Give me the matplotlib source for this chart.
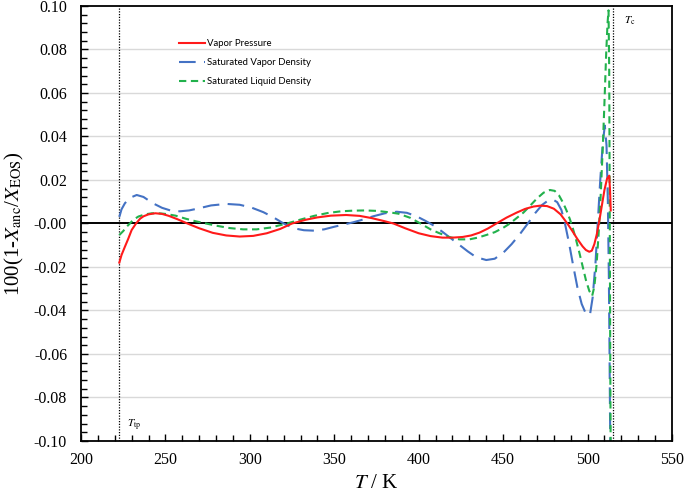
import matplotlib
matplotlib.use("Agg")
import matplotlib.pyplot as plt
from matplotlib.ticker import MultipleLocator, FormatStrFormatter

plt.rcParams['font.family'] = ['Liberation Serif', 'DejaVu Serif']
plt.rcParams['mathtext.fontset'] = 'stix'

# triple point and critical temperature
T_tp = 222.7
T_c = 515.0

# vapor pressure deviation
tVP = [222.7, 224, 226, 228, 230, 232.6, 235, 237, 240, 244, 248, 252, 257,
       263, 270, 278, 286, 294, 302, 310, 318, 325, 333, 340, 348, 357, 365,
       372, 379, 385, 392, 400, 407, 414, 420, 426, 431, 436, 441, 446, 452,
       458, 463, 468, 472, 476, 480, 484, 488, 491, 494, 497, 499, 501, 502.5,
       504, 505.5, 507, 508.5, 510, 511.5, 512.8, 513.3, 513.7]
yVP = [-0.018, -0.0145, -0.0107, -0.007, -0.003, 0.0, 0.0022, 0.0033, 0.0042,
       0.0047, 0.0044, 0.0035, 0.002, 0.0, -0.0022, -0.0043, -0.0055, -0.006,
       -0.0057, -0.0045, -0.0025, 0.0, 0.0017, 0.0028, 0.0036, 0.0039, 0.0035,
       0.0025, 0.0012, 0.0, -0.0022, -0.0045, -0.0058, -0.0065, -0.0065,
       -0.0062, -0.0055, -0.0042, -0.0023, 0.0, 0.0027, 0.005, 0.0067, 0.0078,
       0.0082, 0.008, 0.0068, 0.0042, 0.0, -0.0035, -0.0072, -0.0105, -0.0122,
       -0.013, -0.0125, -0.0095, -0.0048, 0.0015, 0.0085, 0.0155, 0.0205,
       0.022, 0.015, 0.006]

# saturated vapor density deviation
tSVD = [222.7, 224, 226, 229, 233, 237, 242.6, 248, 253.7, 258.6, 264, 270,
        277, 286, 294, 301, 308, 314, 320, 326, 332, 338, 344, 350, 356, 361,
        367, 373, 380, 387, 393, 399, 404, 409, 414, 419, 424, 429, 434, 440,
        445, 450, 455, 460, 464.6, 469, 473, 476.5, 479.5, 482, 484.5, 486.6,
        489, 491.5, 494, 496.5, 499, 501.4, 503, 504.7, 506, 507.5, 509,
        510.2, 511.2, 512, 512.6, 513.0, 513.3, 513.6]
ySVD = [0.003, 0.0065, 0.0093, 0.0118, 0.0131, 0.0122, 0.0093, 0.0072,
        0.0058, 0.0056, 0.006, 0.007, 0.0083, 0.009, 0.0086, 0.0073, 0.0052,
        0.0028, 0.0, -0.0022, -0.0031, -0.0033, -0.0027, -0.0015, -0.0004,
        0.0005, 0.0018, 0.0033, 0.0047, 0.0054, 0.0049, 0.0032, 0.0012, -0.001,
        -0.0038, -0.0068, -0.0098, -0.0128, -0.0155, -0.0168, -0.0162,
        -0.0135, -0.0095, -0.0048, 0.0, 0.0048, 0.0085, 0.0105, 0.011, 0.0098,
        0.0062, 0.0, -0.009, -0.0195, -0.0295, -0.037, -0.0415, -0.042,
        -0.034, -0.018, 0.0, 0.02, 0.037, 0.045, 0.036, 0.01, -0.025, -0.06,
        -0.09, -0.11]

# saturated liquid density deviation
tSLD = [222.7, 225, 227, 229, 230.8, 234, 238, 242, 246, 250, 256, 262, 268,
        274, 280, 288, 296, 304, 312, 322, 330, 338, 346, 354, 361, 368, 375,
        382, 388, 395, 401, 407, 412, 418, 424, 430, 435, 440, 445, 450, 454,
        458, 462, 466, 470, 474, 477.7, 480.5, 483, 485.5, 487.5, 489.5, 491,
        493, 495, 497, 499, 501, 502.7, 504, 505.3, 506.5, 507.7, 509, 510,
        511, 511.8, 512.4, 512.8, 513.1, 513.4, 513.7]
ySLD = [-0.0053, -0.0035, -0.0015, 0.0, 0.0016, 0.0032, 0.0042, 0.0047,
        0.0047, 0.0044, 0.0036, 0.0022, 0.001, 0.0, -0.001, -0.0021, -0.0027,
        -0.0027, -0.0019, 0.0, 0.0018, 0.0035, 0.0048, 0.0056, 0.0059,
        0.006, 0.0058, 0.0052, 0.0045, 0.0026, 0.0, -0.0027, -0.0044,
        -0.0062, -0.0073, -0.0073, -0.0065, -0.0053, -0.004, -0.002, 0.0,
        0.0025, 0.005, 0.0082, 0.0115, 0.0142, 0.0154, 0.015, 0.013, 0.0095,
        0.006, 0.002, -0.0015, -0.007, -0.013, -0.0195, -0.026, -0.031,
        -0.0333, -0.029, -0.019, -0.005, 0.012, 0.035, 0.056, 0.078, 0.092,
        0.098, 0.07, 0.01, -0.06, -0.11]

fig = plt.figure(figsize=(6.84, 4.94), dpi=100)
ax = fig.add_axes([0.1184, 0.1073, 0.8641, 0.8806])

for yy in [-0.08, -0.06, -0.04, -0.02, 0.02, 0.04, 0.06, 0.08]:
    ax.axhline(yy, color='#d9d9d9', lw=1.0, zorder=0)
ax.axhline(0, color='black', lw=1.4, zorder=1)

ax.axvline(T_tp, color='black', lw=0.9, ls=(0, (1, 1.2)), zorder=1)
ax.axvline(T_c, color='black', lw=0.9, ls=(0, (1, 1.2)), zorder=1)

ax.plot(tVP, yVP, color='#ff1a1a', lw=1.5, label='Vapor Pressure', zorder=3)
ax.plot(tSVD, ySVD, color='#4472c4', lw=1.5, ls=(0, (8, 4)),
        label='Saturated Vapor Density', zorder=2)
ax.plot(tSLD, ySLD, color='#22b14c', lw=1.5, ls=(0, (3.5, 2.2)),
        label='Saturated Liquid Density', zorder=2)

ax.set_xlim(200, 550)
ax.set_ylim(-0.10, 0.10)
ax.xaxis.set_major_locator(MultipleLocator(50))
ax.xaxis.set_minor_locator(MultipleLocator(10))
ax.yaxis.set_major_locator(MultipleLocator(0.02))
ax.yaxis.set_minor_locator(MultipleLocator(0.004))
ax.yaxis.set_major_formatter(FormatStrFormatter('%.2f'))
ax.tick_params(which='both', direction='in', top=False, right=False,
               labelsize=11.5, width=1.0)
ax.tick_params(which='major', length=5)
ax.tick_params(which='minor', length=4)
ax.tick_params(axis='x', which='major', pad=8)
ax.tick_params(axis='y', which='major', pad=10)
for s in ax.spines.values():
    s.set_linewidth(1.3)

ax.set_xlabel(r'$T$ / K', fontsize=15, labelpad=4)
ax.set_ylabel(r'100(1-$X_{\rm anc}$/$X_{\rm EOS}$)', fontsize=15, labelpad=6)

ax.text(227, -0.094, r'$T_{\rm tp}$', fontsize=8)
ax.text(521.5, 0.092, r'$T_{\rm c}$', fontsize=8)

ax.legend(loc='upper left', bbox_to_anchor=(0.166, 0.924), frameon=False,
          prop={'family': 'Lato', 'size': 6.9}, handlelength=2.7,
          handletextpad=0.2, labelspacing=1.05, borderpad=0, borderaxespad=0)

fig.savefig('out.png', dpi=100)
